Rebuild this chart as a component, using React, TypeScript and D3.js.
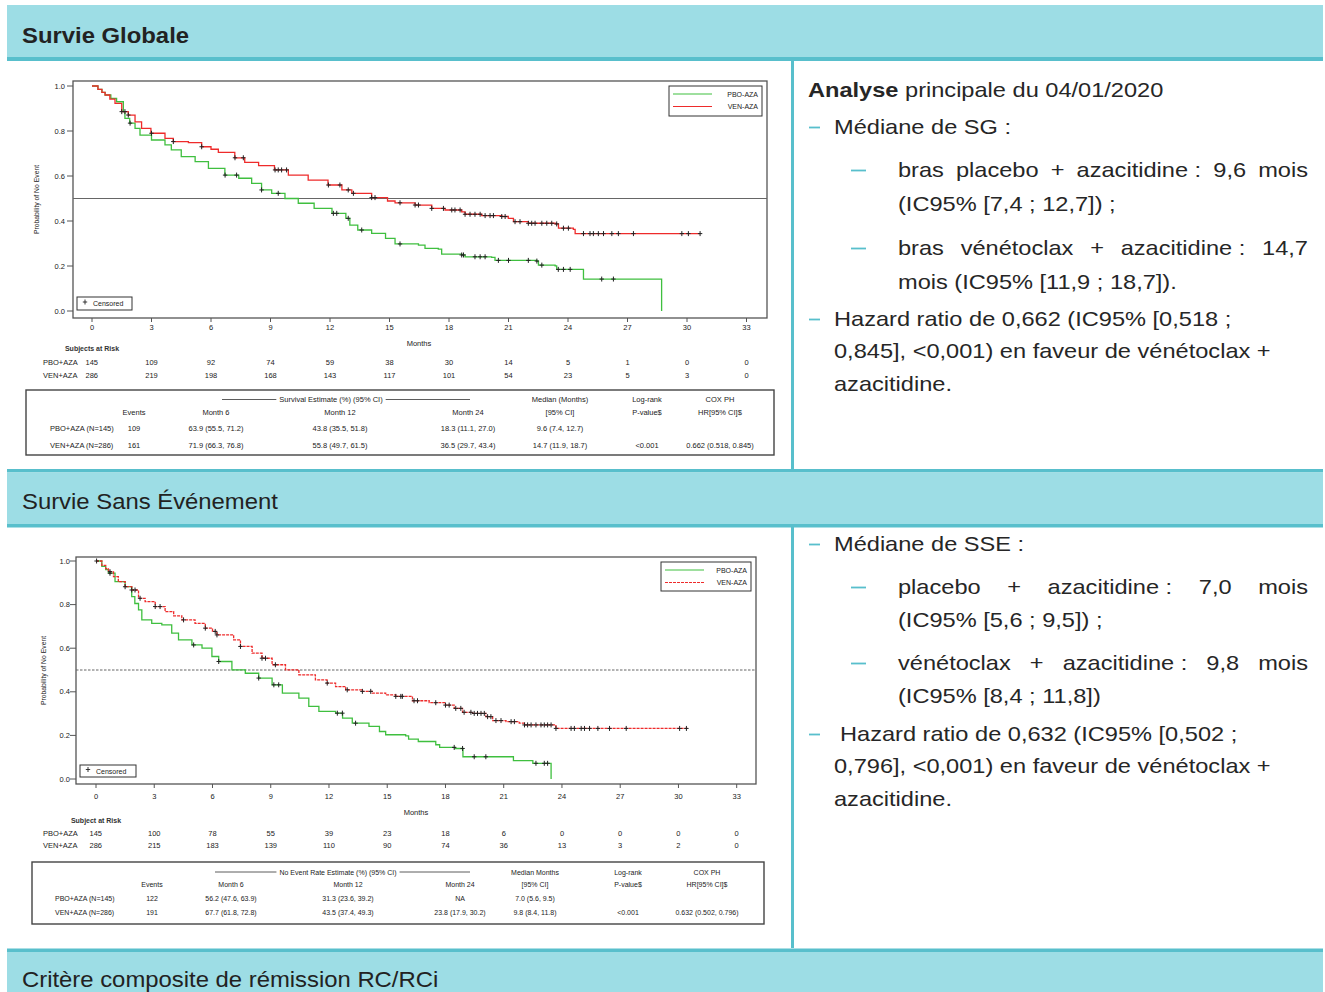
import React from 'react';
import * as d3 from 'd3';

type Pt = [number, number];

const FONT = "'Liberation Sans', Arial, Helvetica, sans-serif";
const GREEN = '#3fbf3f';
const RED = '#ee2b2b';
const TEAL_LIGHT = '#9ddde5';
const TEAL_DARK = '#58bfcc';
const INK = '#262626';
const AXIS = '#555';

// ---- shared axis values ----
const monthTicks = [0, 3, 6, 9, 12, 15, 18, 21, 24, 27, 30, 33];
const probTicks = [0, 0.2, 0.4, 0.6, 0.8, 1.0];

// ---- Overall survival: Kaplan-Meier steps [month, probability] ----
const osPboSteps: Pt[] = [
  [0, 1], [0.3, 0.985], [0.5, 0.972], [0.66, 0.96], [0.95, 0.945], [1.24, 0.93], [1.58, 0.886], [1.66, 0.856],
  [1.9, 0.835], [2.17, 0.812], [2.42, 0.782], [3.0, 0.76], [3.68, 0.738], [4.0, 0.716], [4.5, 0.686],
  [5.2, 0.664], [5.87, 0.634], [6.7, 0.604], [7.4, 0.59], [8.05, 0.567], [8.55, 0.538], [9.06, 0.523],
  [9.73, 0.5], [10.4, 0.479], [11.2, 0.456], [12.1, 0.434], [12.8, 0.412], [13.0, 0.382], [13.4, 0.36],
  [14.1, 0.345], [14.8, 0.323], [15.28, 0.298], [16.46, 0.293], [16.79, 0.278], [17.46, 0.275],
  [17.63, 0.253], [18.64, 0.249], [18.81, 0.241], [20.15, 0.238], [20.32, 0.225], [22.43, 0.222],
  [22.51, 0.204], [23.35, 0.201], [23.43, 0.185], [24.78, 0.142], [28.72, 0],
];
const osVenSteps: Pt[] = [
  [0, 1], [0.3, 0.985], [0.5, 0.972], [0.66, 0.96], [0.9, 0.942], [1.16, 0.923], [1.5, 0.886], [1.83, 0.871],
  [2.17, 0.841], [2.5, 0.812], [2.97, 0.79], [3.68, 0.767], [4.1, 0.753], [4.86, 0.748], [5.53, 0.73],
  [6.0, 0.719], [6.37, 0.705], [7.2, 0.681], [7.7, 0.661], [8.4, 0.646], [9.2, 0.627], [9.9, 0.604],
  [10.9, 0.582], [11.9, 0.56], [12.6, 0.538], [13.1, 0.523], [14.1, 0.504], [14.9, 0.489], [15.28, 0.481],
  [16.29, 0.471], [17.13, 0.456], [17.8, 0.449], [18.64, 0.441], [18.81, 0.43], [19.65, 0.424],
  [20.66, 0.42], [20.99, 0.412], [21.25, 0.397], [22.0, 0.39], [23.35, 0.387], [23.52, 0.368],
  [24.27, 0.363], [24.36, 0.344], [30.66, 0.344],
];
const osPboCensored = [
  1.92, 6.71, 7.29, 8.55, 9.39, 12.17, 12.34, 12.92, 13.6, 15.53, 18.64, 18.73, 19.31, 19.57, 19.82,
  20.49, 21.0, 22.0, 22.43, 22.68, 23.51, 23.77, 24.11, 25.7, 26.29,
];
const osVenCensored = [
  1.5, 1.66, 1.83, 3.0, 4.1, 5.53, 7.21, 7.63, 9.23, 9.39, 9.56, 9.81, 11.92, 12.5, 12.92, 13.18,
  14.1, 14.27, 15.53, 16.29, 16.46, 17.13, 17.72, 18.14, 18.3, 18.56, 18.81, 19.06, 19.31, 19.57,
  19.82, 20.07, 20.24, 20.66, 20.83, 21.33, 21.58, 22.0, 22.17, 22.34, 22.68, 22.93, 23.18, 23.43,
  23.77, 24.02, 24.78, 25.11, 25.28, 25.53, 25.79, 26.21, 26.54, 27.3, 29.74, 30.07, 30.66,
];
const osAtRiskPbo = [145, 109, 92, 74, 59, 38, 30, 14, 5, 1, 0, 0];
const osAtRiskVen = [286, 219, 198, 168, 143, 117, 101, 54, 23, 5, 3, 0];

// ---- Event-free survival ----
const efsPboSteps: Pt[] = [
  [0, 1], [0.3, 0.975], [0.5, 0.96], [0.64, 0.944], [0.98, 0.905], [1.5, 0.882], [1.84, 0.837],
  [2.0, 0.805], [2.19, 0.776], [2.36, 0.73], [2.87, 0.714], [3.39, 0.707], [3.9, 0.669], [4.25, 0.638],
  [4.94, 0.615], [5.46, 0.6], [5.97, 0.562], [6.32, 0.539], [7.0, 0.501], [7.69, 0.485], [8.38, 0.463],
  [9.07, 0.432], [9.6, 0.394], [10.45, 0.371], [10.96, 0.333], [11.48, 0.31], [12.34, 0.302],
  [12.7, 0.279], [13.2, 0.256], [14.06, 0.241], [14.6, 0.218], [14.92, 0.203], [15.95, 0.198],
  [16.1, 0.183], [16.6, 0.172], [17.5, 0.157], [17.7, 0.145], [18.5, 0.14], [18.9, 0.102], [21.5, 0.084],
  [22.5, 0.072], [23.44, 0],
];
const efsVenSteps: Pt[] = [
  [0, 1], [0.3, 0.98], [0.5, 0.965], [0.64, 0.951], [0.9, 0.928], [1.15, 0.905], [1.5, 0.882], [1.84, 0.867],
  [2.19, 0.829], [2.53, 0.814], [3.05, 0.791], [3.56, 0.768], [4.0, 0.748], [4.42, 0.73], [5.1, 0.714],
  [5.63, 0.692], [6.0, 0.677], [6.23, 0.661], [7.09, 0.638], [7.44, 0.608], [8.04, 0.577], [8.55, 0.554],
  [9.07, 0.524], [9.76, 0.501], [10.45, 0.478], [11.3, 0.455], [11.9, 0.44], [12.34, 0.424],
  [12.86, 0.409], [13.7, 0.402], [14.23, 0.394], [14.92, 0.386], [15.44, 0.379], [16.3, 0.359],
  [17.16, 0.35], [18.0, 0.339], [18.45, 0.324], [18.88, 0.306], [19.4, 0.301], [20.08, 0.286],
  [20.43, 0.268], [21.12, 0.263], [21.8, 0.256], [22.07, 0.248], [23.69, 0.232], [30.49, 0.232],
];
const efsPboCensored = [
  0.72, 5.03, 6.32, 8.38, 9.16, 9.41, 12.43, 12.69, 13.37, 18.45, 18.88, 19.48, 20.08, 22.66, 23.09, 23.26,
];
const efsVenCensored = [
  0.03, 0.72, 1.5, 1.84, 2.01, 2.27, 3.05, 3.3, 4.51, 5.63, 6.14, 6.23, 7.44, 8.55, 8.73, 9.24, 11.91,
  12.94, 13.72, 14.15, 15.44, 15.7, 15.78, 16.38, 16.56, 17.5, 18.0, 18.19, 18.53, 18.79, 18.96, 19.31,
  19.48, 19.65, 19.83, 20.0, 20.17, 20.34, 20.6, 20.86, 21.38, 21.55, 22.07, 22.23, 22.41, 22.66, 22.92,
  23.09, 23.26, 23.44, 23.69, 24.47, 24.64, 24.99, 25.16, 25.42, 25.85, 26.45, 27.31, 30.06, 30.41,
];
const efsAtRiskPbo = [145, 100, 78, 55, 39, 23, 18, 6, 0, 0, 0, 0];
const efsAtRiskVen = [286, 215, 183, 139, 110, 90, 74, 36, 13, 3, 2, 0];

// ---- summary tables ----
const osHead1 = ['', '', '', '', '', 'Median (Months)', 'Log-rank', 'COX PH'];
const osHead2 = ['', 'Events', 'Month 6', 'Month 12', 'Month 24', '[95% CI]', 'P-value$', 'HR[95% CI]$'];
const osRows = [
  ['PBO+AZA (N=145)', '109', '63.9 (55.5, 71.2)', '43.8 (35.5, 51.8)', '18.3 (11.1, 27.0)', '9.6 (7.4, 12.7)', '', ''],
  ['VEN+AZA (N=286)', '161', '71.9 (66.3, 76.8)', '55.8 (49.7, 61.5)', '36.5 (29.7, 43.4)', '14.7 (11.9, 18.7)', '<0.001', '0.662 (0.518, 0.845)'],
];
const efsHead1 = ['', '', '', '', '', 'Median Months', 'Log-rank', 'COX PH'];
const efsHead2 = ['', 'Events', 'Month 6', 'Month 12', 'Month 24', '[95% CI]', 'P-value$', 'HR[95% CI]$'];
const efsRows = [
  ['PBO+AZA (N=145)', '122', '56.2 (47.6, 63.9)', '31.3 (23.6, 39.2)', 'NA', '7.0 (5.6, 9.5)', '', ''],
  ['VEN+AZA (N=286)', '191', '67.7 (61.8, 72.8)', '43.5 (37.4, 49.3)', '23.8 (17.9, 30.2)', '9.8 (8.4, 11.8)', '<0.001', '0.632 (0.502, 0.796)'],
];

const seriesNames = ['PBO-AZA', 'VEN-AZA'];

// value of a step function just after time t
function stepValue(steps: Pt[], t: number) {
  let v = steps[0][1];
  for (const s of steps) {
    if (s[0] <= t + 1e-9) v = s[1];
    else break;
  }
  return v;
}

let measureCtx: CanvasRenderingContext2D | null = null;
function measure(s: string, font: string) {
  if (!measureCtx) measureCtx = document.createElement('canvas').getContext('2d');
  if (!measureCtx) return s.length * 10;
  measureCtx.font = font;
  return measureCtx.measureText(s).width;
}

interface ChartLayout {
  left: number; right: number; top: number; bottom: number;
  x0: number; x33: number; yZero: number; yOne: number;
  tickLabelGap: number;
  dashedRef: boolean; dashedVen: boolean;
  yTitleX: number;
  legend: { x: number; y: number; w: number; h: number };
  cens: { x: number; y: number; w: number; h: number };
  tickLabelY: number; monthsX: number; monthsY: number;
  riskTitle: string; riskTitleY: number; riskY: [number, number]; riskLabelX: number;
}

interface ChartData {
  pbo: Pt[]; ven: Pt[]; pboCens: number[]; venCens: number[]; riskPbo: number[]; riskVen: number[];
}

function KMChart({ L, D }: { L: ChartLayout; D: ChartData }) {
  const x = d3.scaleLinear().domain([0, 33]).range([L.x0, L.x33]);
  const y = d3.scaleLinear().domain([0, 1]).range([L.yZero, L.yOne]);
  const line = d3.line<Pt>().x(d => x(d[0])).y(d => y(d[1])).curve(d3.curveStepAfter);
  const plus = (cx: number, cy: number) => `M${cx - 2.2},${cy}h4.4M${cx},${cy - 2.5}v5`;
  const fs = 7.5;
  return (
    <g fontFamily={FONT} fill="#222">
      <rect x={L.left} y={L.top} width={L.right - L.left} height={L.bottom - L.top} fill="#fff" stroke={AXIS} strokeWidth={1.3} />
      {probTicks.map(v => (
        <g key={'y' + v}>
          <line x1={L.left - 6} x2={L.left} y1={y(v)} y2={y(v)} stroke={AXIS} strokeWidth={1} />
          <text x={L.left - L.tickLabelGap} y={y(v) + 2.6} textAnchor="end" fontSize={7.5}>{v.toFixed(1)}</text>
        </g>
      ))}
      {monthTicks.map(m => (
        <g key={'x' + m}>
          <line x1={x(m)} x2={x(m)} y1={L.bottom} y2={L.bottom + 4} stroke={AXIS} strokeWidth={1} />
          <text x={x(m)} y={L.tickLabelY} textAnchor="middle" fontSize={7.5}>{m}</text>
        </g>
      ))}
      <line x1={L.left} x2={L.right} y1={y(0.5)} y2={y(0.5)} stroke="#666" strokeWidth={1.2}
        strokeDasharray={L.dashedRef ? '2.5,1.5' : undefined} />
      <path d={line(D.pbo) || ''} fill="none" stroke={GREEN} strokeWidth={1.3} />
      <path d={line(D.ven) || ''} fill="none" stroke={RED} strokeWidth={1.3}
        strokeDasharray={L.dashedVen ? '3,1' : undefined} />
      <path d={D.pboCens.map(t => plus(x(t), y(stepValue(D.pbo, t)))).join('')} stroke="#222" strokeWidth={1} fill="none" />
      <path d={D.venCens.map(t => plus(x(t), y(stepValue(D.ven, t)))).join('')} stroke="#222" strokeWidth={1} fill="none" />

      {/* legend */}
      <rect x={L.legend.x} y={L.legend.y} width={L.legend.w} height={L.legend.h} fill="#fff" stroke="#333" strokeWidth={1} />
      {seriesNames.map((n, i) => {
        const ly = L.legend.y + 8 + i * 12.5;
        return (
          <g key={n}>
            <line x1={L.legend.x + 4} x2={L.legend.x + 43} y1={ly} y2={ly} stroke={i === 0 ? GREEN : RED} strokeWidth={1.2}
              strokeDasharray={i === 1 && L.dashedVen ? '3,1' : undefined} />
            <text x={L.legend.x + L.legend.w - 4} y={ly + 2.5} textAnchor="end" fontSize={7}>{n}</text>
          </g>
        );
      })}
      <rect x={L.cens.x} y={L.cens.y} width={L.cens.w} height={L.cens.h} fill="#fff" stroke="#333" strokeWidth={1} />
      <path d={plus(L.cens.x + 8, L.cens.y + L.cens.h / 2 - 1.5)} stroke="#222" strokeWidth={0.9} />
      <text x={L.cens.x + 16} y={L.cens.y + L.cens.h / 2 + 2.6} fontSize={7}>Censored</text>

      <text transform={`translate(${L.yTitleX},${(L.top + L.bottom) / 2}) rotate(-90)`} textAnchor="middle" fontSize={6.8}>
        Probability of No Event
      </text>
      <text x={L.monthsX} y={L.monthsY} textAnchor="middle" fontSize={7.5}>Months</text>

      {/* subjects at risk */}
      <text x={x(0)} y={L.riskTitleY} textAnchor="middle" fontSize={7} fontWeight="bold" fill="#333">{L.riskTitle}</text>
      {[D.riskPbo, D.riskVen].map((row, r) => (
        <g key={'r' + r}>
          <text x={L.riskLabelX} y={L.riskY[r]} fontSize={fs}>{r === 0 ? 'PBO+AZA' : 'VEN+AZA'}</text>
          <text x={x(0) + 6} y={L.riskY[r]} textAnchor="end" fontSize={fs}>{row[0]}</text>
          {row.slice(1).map((v, i) => (
            <text key={i} x={x(monthTicks[i + 1])} y={L.riskY[r]} textAnchor="middle" fontSize={fs}>{v}</text>
          ))}
        </g>
      ))}
    </g>
  );
}

interface TableLayout {
  box: { x: number; y: number; w: number; h: number };
  cols: number[];
  group: string; groupX: number; groupY: number; lineFrom: number; lineTo: number;
  headY: [number, number]; rowY: [number, number]; fs: number;
}

function SummaryTable({ T, head1, head2, rows }: { T: TableLayout; head1: string[]; head2: string[]; rows: string[][] }) {
  const gw = measure(T.group, `${T.fs}px ${FONT}`);
  return (
    <g fontFamily={FONT} fill="#222" fontSize={T.fs}>
      <rect x={T.box.x} y={T.box.y} width={T.box.w} height={T.box.h} fill="#fff" stroke="#444" strokeWidth={1.4} />
      <line x1={T.lineFrom} x2={T.groupX - gw / 2 - 3} y1={T.groupY - 2.5} y2={T.groupY - 2.5} stroke="#333" strokeWidth={0.8} />
      <line x1={T.groupX + gw / 2 + 3} x2={T.lineTo} y1={T.groupY - 2.5} y2={T.groupY - 2.5} stroke="#333" strokeWidth={0.8} />
      <text x={T.groupX} y={T.groupY} textAnchor="middle">{T.group}</text>
      {[head1, head2].map((h, r) => h.map((s, c) => s ? (
        <text key={`h${r}${c}`} x={T.cols[c]} y={T.headY[r]} textAnchor="middle">{s}</text>
      ) : null))}
      {rows.map((row, r) => row.map((s, c) => s ? (
        <text key={`r${r}${c}`} x={T.cols[c]} y={T.rowY[r]} textAnchor={c === 0 ? 'start' : 'middle'}>{s}</text>
      ) : null))}
    </g>
  );
}

// ---- right-hand bullet text ----
const FS = 20;
const SX = 1.18;
const bodyFont = `${FS}px ${FONT}`;

function TextLine({ x, y, children, weight }: { x: number; y: number; children: React.ReactNode; weight?: string }) {
  return (
    <text transform={`translate(${x},${y}) scale(${SX},1)`} fontSize={FS} fontFamily={FONT} fill={INK} fontWeight={weight}>
      {children}
    </text>
  );
}

function Justified({ words, x0, x1, y }: { words: string[]; x0: number; x1: number; y: number }) {
  const widths = words.map(w => measure(w, bodyFont) * SX);
  const total = widths.reduce((a, b) => a + b, 0);
  const gap = (x1 - x0 - total) / (words.length - 1);
  let cx = x0;
  const xs = widths.map(w => { const p = cx; cx += w + gap; return p; });
  return <g>{words.map((w, i) => <TextLine key={i} x={xs[i]} y={y}>{w}</TextLine>)}</g>;
}

function Dash({ x, y, w }: { x: number; y: number; w: number }) {
  return <line x1={x} x2={x + w} y1={y - 6.5} y2={y - 6.5} stroke={TEAL_DARK} strokeWidth={1.8} />;
}

const L1 = 834;
const L2 = 898;
const RIGHT = 1308;

const osLayout: ChartLayout = {
  left: 73, right: 767, top: 81, bottom: 318, x0: 92, x33: 746.5, yZero: 311, yOne: 86,
  tickLabelGap: 8, dashedRef: false, dashedVen: false, yTitleX: 39,
  legend: { x: 669, y: 86, w: 93, h: 30 }, cens: { x: 77, y: 297, w: 55, h: 13 },
  tickLabelY: 330, monthsX: 419, monthsY: 346,
  riskTitle: 'Subjects at Risk', riskTitleY: 351, riskY: [364.5, 378], riskLabelX: 43,
};
const efsLayout: ChartLayout = {
  left: 76, right: 756, top: 557, bottom: 784, x0: 96, x33: 736.7, yZero: 779, yOne: 561,
  tickLabelGap: 6, dashedRef: true, dashedVen: true, yTitleX: 46,
  legend: { x: 661, y: 562, w: 90, h: 29 }, cens: { x: 80, y: 765, w: 56, h: 12 },
  tickLabelY: 799, monthsX: 416, monthsY: 815,
  riskTitle: 'Subject at Risk', riskTitleY: 823, riskY: [836, 848], riskLabelX: 43,
};
const osTable: TableLayout = {
  box: { x: 26, y: 390, w: 748, h: 65 }, cols: [50, 134, 216, 340, 468, 560, 647, 720],
  group: 'Survival Estimate (%) (95% CI)', groupX: 331, groupY: 402, lineFrom: 222, lineTo: 470,
  headY: [402, 415], rowY: [431, 447.5], fs: 7.5,
};
const efsTable: TableLayout = {
  box: { x: 32, y: 862, w: 732, h: 62 }, cols: [55, 152, 231, 348, 460, 535, 628, 707],
  group: 'No Event Rate Estimate (%) (95% CI)', groupX: 338, groupY: 874.5, lineFrom: 215, lineTo: 470,
  headY: [874.5, 886.5], rowY: [900.5, 915], fs: 7,
};

export default function App() {
  return (
    <svg width={1325} height={992} style={{ position: 'absolute', left: 0, top: 0, background: '#fff' }}>
      <rect width={1325} height={992} fill="#fff" />
      {/* section bands */}
      <rect x={7} y={5} width={1316} height={53} fill={TEAL_LIGHT} />
      <rect x={7} y={57} width={1316} height={4} fill={TEAL_DARK} />
      <rect x={791} y={61} width={3} height={408} fill={TEAL_DARK} />
      <rect x={7} y={469} width={1316} height={3.5} fill={TEAL_DARK} />
      <rect x={7} y={472.5} width={1316} height={51.5} fill={TEAL_LIGHT} />
      <rect x={7} y={524} width={1316} height={3.5} fill={TEAL_DARK} />
      <rect x={791} y={527} width={3} height={421} fill={TEAL_DARK} />
      <rect x={7} y={948.5} width={1316} height={3.5} fill={TEAL_DARK} />
      <rect x={7} y={952} width={1316} height={40} fill={TEAL_LIGHT} />

      <text transform="translate(22,42.5) scale(1.085,1)" fontFamily={FONT} fontSize={22} fontWeight="bold" fill="#222">Survie Globale</text>
      <text transform="translate(22,508.5) scale(1.085,1)" fontFamily={FONT} fontSize={22} fill="#222">Survie Sans Événement</text>
      <text transform="translate(22,987) scale(1.085,1)" fontFamily={FONT} fontSize={22} fill="#222">Critère composite de rémission RC/RCi</text>

      <KMChart L={osLayout} D={{ pbo: osPboSteps, ven: osVenSteps, pboCens: osPboCensored, venCens: osVenCensored, riskPbo: osAtRiskPbo, riskVen: osAtRiskVen }} />
      <SummaryTable T={osTable} head1={osHead1} head2={osHead2} rows={osRows} />

      <KMChart L={efsLayout} D={{ pbo: efsPboSteps, ven: efsVenSteps, pboCens: efsPboCensored, venCens: efsVenCensored, riskPbo: efsAtRiskPbo, riskVen: efsAtRiskVen }} />
      <SummaryTable T={efsTable} head1={efsHead1} head2={efsHead2} rows={efsRows} />

      {/* overall survival notes */}
      <TextLine x={808} y={97}><tspan fontWeight="bold">Analyse</tspan> principale du 04/01/2020</TextLine>
      <Dash x={809} y={134} w={11} />
      <TextLine x={L1} y={134}>Médiane de SG :</TextLine>
      <Dash x={851} y={177} w={15} />
      <Justified words={['bras', 'placebo', '+', 'azacitidine\u00a0:', '9,6', 'mois']} x0={L2} x1={RIGHT} y={177} />
      <TextLine x={L2} y={211}>(IC95% [7,4 ; 12,7]) ;</TextLine>
      <Dash x={851} y={255} w={15} />
      <Justified words={['bras', 'vénétoclax', '+', 'azacitidine\u00a0:', '14,7']} x0={L2} x1={RIGHT} y={255} />
      <TextLine x={L2} y={289}>mois (IC95% [11,9 ; 18,7]).</TextLine>
      <Dash x={809} y={326} w={11} />
      <TextLine x={L1} y={326}>Hazard ratio de 0,662 (IC95% [0,518 ;</TextLine>
      <TextLine x={L1} y={358}>0,845], &lt;0,001) en faveur de vénétoclax +</TextLine>
      <TextLine x={L1} y={391}>azacitidine.</TextLine>

      {/* event-free survival notes */}
      <Dash x={809} y={551} w={11} />
      <TextLine x={L1} y={551}>Médiane de SSE :</TextLine>
      <Dash x={851} y={594} w={15} />
      <Justified words={['placebo', '+', 'azacitidine\u00a0:', '7,0', 'mois']} x0={L2} x1={RIGHT} y={594} />
      <TextLine x={L2} y={627}>(IC95% [5,6 ; 9,5]) ;</TextLine>
      <Dash x={851} y={670} w={15} />
      <Justified words={['vénétoclax', '+', 'azacitidine\u00a0:', '9,8', 'mois']} x0={L2} x1={RIGHT} y={670} />
      <TextLine x={L2} y={703}>(IC95% [8,4 ; 11,8])</TextLine>
      <Dash x={809} y={741} w={11} />
      <TextLine x={840} y={741}>Hazard ratio de 0,632 (IC95% [0,502 ;</TextLine>
      <TextLine x={L1} y={773}>0,796], &lt;0,001) en faveur de vénétoclax +</TextLine>
      <TextLine x={L1} y={806}>azacitidine.</TextLine>
    </svg>
  );
}
